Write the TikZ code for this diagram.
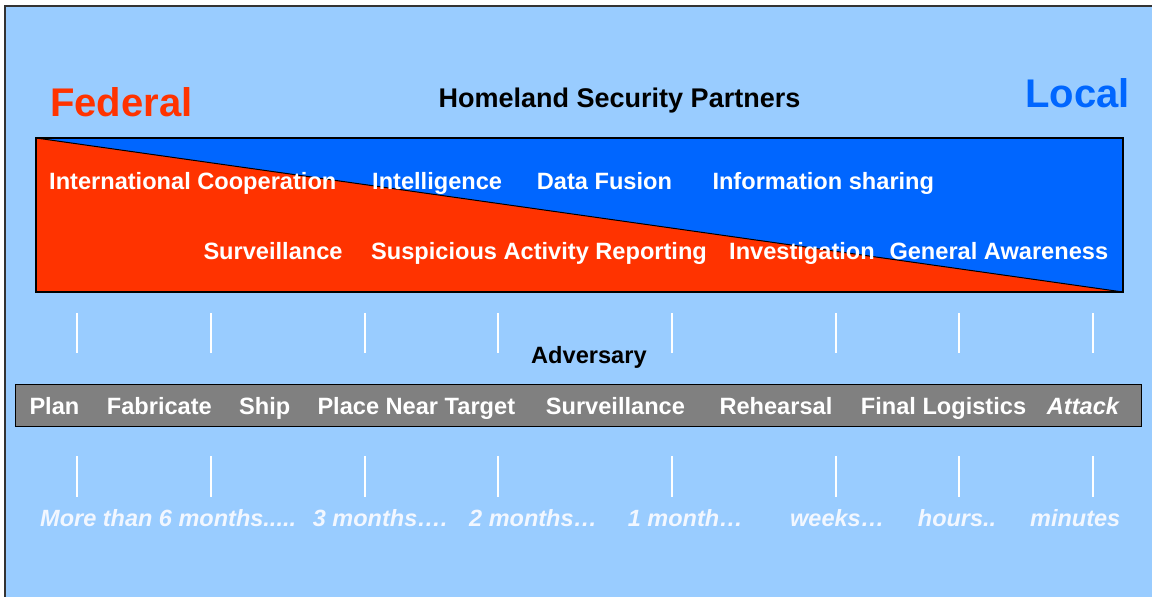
\documentclass[tikz,border=0pt]{standalone}
\usepackage{fontspec}
\setmainfont{Liberation Sans}
\definecolor{bgblue}{HTML}{99CCFF}
\definecolor{fedred}{HTML}{FF3300}
\definecolor{locblue}{HTML}{0066FF}
\definecolor{bargray}{HTML}{808080}
\definecolor{paletext}{HTML}{F2F7FF}
\begin{document}
\begin{tikzpicture}[x=1pt,y=-1pt,
  lbl/.style={anchor=base west,inner sep=0pt,font=\fontsize{23.6}{28}\selectfont\bfseries,text=white},
  stage/.style={lbl},
  stageit/.style={lbl,font=\fontsize{23.6}{28}\selectfont\bfseries\itshape},
  timelbl/.style={lbl,font=\fontsize{23.5}{28}\selectfont\bfseries\itshape,text=paletext},
  title/.style={anchor=base west,inner sep=0pt,font=\fontsize{27}{32}\selectfont\bfseries,text=black},
  side/.style={anchor=base west,inner sep=0pt,font=\fontsize{40}{46}\selectfont\bfseries},
  tickline/.style={draw=white,line width=2pt}]
\useasboundingbox (0,0) rectangle (1152,597);
\clip (0,0) rectangle (1152,597);
\fill[white] (0,0) rectangle (1152,597);
\draw[fill=bgblue,draw=black!80,line width=1.5pt] (5,6) rectangle (1170,620);
% partner band
\fill[locblue] (36,138) rectangle (1123,292);
\fill[fedred] (36,138) -- (1123,292) -- (36,292) -- cycle;
\draw[line width=1pt] (36,138) -- (1123,292);
\draw[line width=1.2pt] (36,138) rectangle (1123,292);
% headings
\node[side,text=fedred] (federal) at (50,116.7) {Federal};
\node[side,text=locblue] (local) at (1025,107.3) {Local};
\node[title] (hsp) at (438.5,107) {Homeland Security Partners};
% band texts
\node[lbl] (ic) at (49,189) {International Cooperation};
\node[lbl] (intel) at (372,189) {Intelligence};
\node[lbl] (df) at (536.7,189) {Data Fusion};
\node[lbl] (is) at (712.3,189) {Information sharing};
\node[lbl] (surv1) at (203.3,259.5) {Surveillance};
\node[lbl] (sar) at (371,259.5) {Suspicious Activity Reporting};
\node[lbl] (inv) at (729,259.5) {Investigation};
\node[lbl] (ga) at (889.3,259.5) {General Awareness};
% ticks
\foreach \x in {77.3,210.5,364.5,497.7,672.3,836,959.3,1092.5} {
  \draw[tickline] (\x,313.3) -- (\x,353.3);
  \draw[tickline] (\x,456) -- (\x,496.7);
}
% adversary
\node[title,font=\fontsize{23.6}{28}\selectfont\bfseries] (adv) at (531,363.3) {Adversary};
\draw[fill=bargray,draw=black,line width=1.2pt] (15.7,384.3) rectangle (1141.7,426.7);
\node[stage] (plan) at (29.3,414.3) {Plan};
\node[stage] (fab) at (106.7,414.3) {Fabricate};
\node[stage] (ship) at (239,414.3) {Ship};
\node[stage] (pnt) at (317.3,414.3) {Place Near Target};
\node[stage] (surv2) at (545.7,414.3) {Surveillance};
\node[stage] (reh) at (719.3,414.3) {Rehearsal};
\node[stage] (fl) at (860.7,414.3) {Final Logistics};
\node[stageit] (att) at (1046.7,414.3) {Attack};
% time scale
\node[timelbl] (t6) at (40,526) {More than 6 months.....};
\node[timelbl] (t3) at (312.7,526) {3 months….};
\node[timelbl] (t2) at (469,526) {2 months…};
\node[timelbl] (t1) at (627.7,526) {1 month…};
\node[timelbl] (tw) at (790,526) {weeks…};
\node[timelbl] (th) at (917.7,526) {hours..};
\node[timelbl] (tm) at (1030,526) {minutes};
\end{tikzpicture}
\end{document}
